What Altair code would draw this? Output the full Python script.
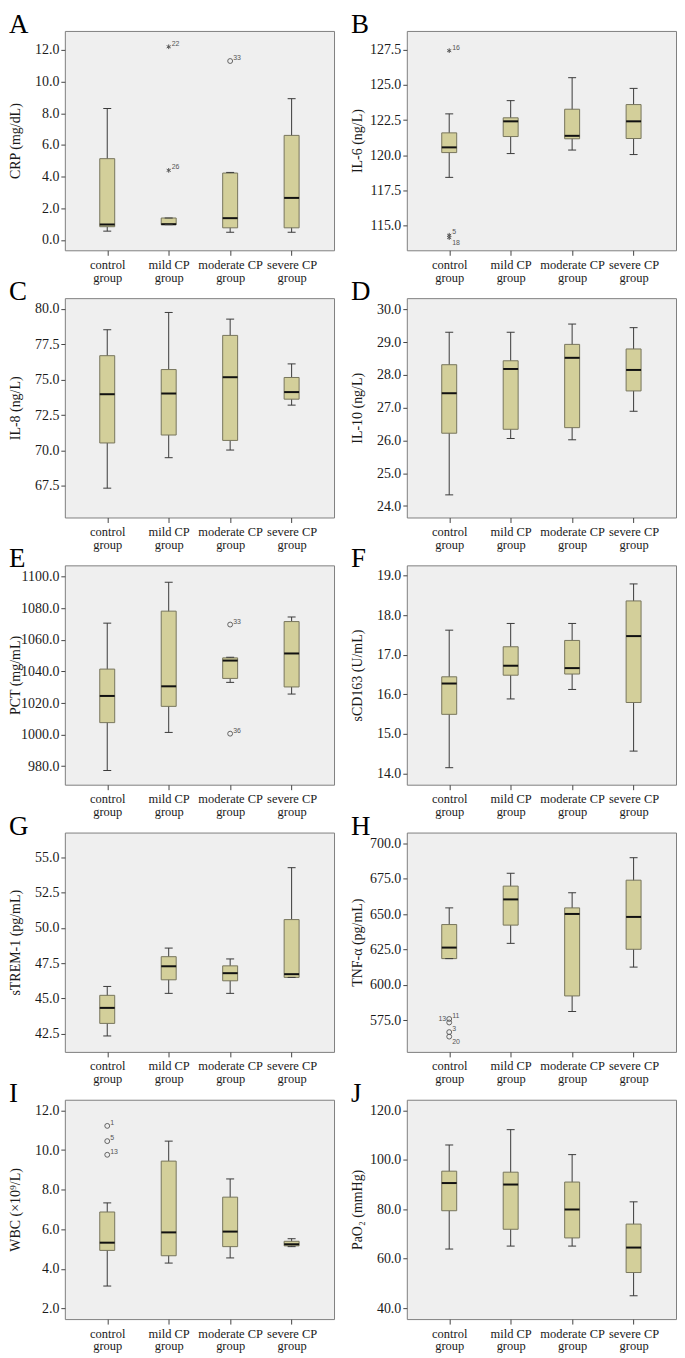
import altair as alt
import pandas as pd

groups = ["control group", "mild CP group", "moderate CP group", "severe CP group"]

# ---- A: CRP ----
crp_lo = [0.55, 0.96, 0.48, 0.48]
crp_q1 = [0.83, 0.96, 0.76, 0.76]
crp_med = [0.97, 0.99, 1.37, 2.65]
crp_q3 = [5.13, 1.38, 4.22, 6.60]
crp_hi = [8.30, 1.38, 4.26, 8.92]
crp_ticks = [0, 2, 4, 6, 8, 10, 12]
crp_domain = [-0.66, 13.2]
crp_out_group = ["mild CP group", "mild CP group", "moderate CP group"]
crp_out_value = [12.2, 4.39, 11.3]
crp_out_label = ["22", "26", "33"]
crp_out_shape = ["star", "star", "circle"]
crp_out_pos = ["ur", "ur", "ur"]

# ---- B: IL-6 ----
il6_lo = [118.43, 120.12, 120.37, 120.05]
il6_q1 = [120.19, 121.33, 121.17, 121.19]
il6_med = [120.56, 122.41, 121.38, 122.41]
il6_q3 = [121.59, 122.66, 123.27, 123.60]
il6_hi = [122.94, 123.88, 125.51, 124.75]
il6_ticks = [115.0, 117.5, 120.0, 122.5, 125.0, 127.5]
il6_domain = [113.25, 128.83]
il6_out_group = ["control group", "control group", "control group"]
il6_out_value = [127.43, 114.32, 114.15]
il6_out_label = ["16", "5", "18"]
il6_out_shape = ["star", "star", "star"]
il6_out_pos = ["ur", "ur", "dr"]

# ---- C: IL-8 ----
il8_lo = [67.34, 69.49, 70.03, 73.20]
il8_q1 = [70.53, 71.09, 70.71, 73.62]
il8_med = [73.97, 74.02, 75.17, 74.12]
il8_q3 = [76.69, 75.71, 78.12, 75.15]
il8_hi = [78.52, 79.74, 79.27, 76.11]
il8_ticks = [67.5, 70.0, 72.5, 75.0, 77.5, 80.0]
il8_domain = [65.27, 80.75]

# ---- D: IL-10 ----
il10_lo = [24.34, 26.06, 26.02, 26.89]
il10_q1 = [26.22, 26.34, 26.39, 27.51]
il10_med = [27.44, 28.18, 28.52, 28.15]
il10_q3 = [28.31, 28.43, 28.93, 28.79]
il10_hi = [29.30, 29.30, 29.55, 29.44]
il10_ticks = [24, 25, 26, 27, 28, 29, 30]
il10_domain = [23.65, 30.34]

# ---- E: PCT ----
pct_lo = [977.3, 1001.4, 1033.1, 1025.7]
pct_q1 = [1007.6, 1017.9, 1035.6, 1030.2]
pct_med = [1024.5, 1030.6, 1046.9, 1051.4]
pct_q3 = [1041.5, 1078.2, 1048.6, 1071.6]
pct_hi = [1070.6, 1096.5, 1049.0, 1074.5]
pct_ticks = [980, 1000, 1020, 1040, 1060, 1080, 1100]
pct_domain = [968.3, 1107.2]
pct_out_group = ["moderate CP group", "moderate CP group"]
pct_out_value = [1069.7, 1000.6]
pct_out_label = ["33", "36"]
pct_out_shape = ["circle", "circle"]
pct_out_pos = ["ur", "ur"]

# ---- F: sCD163 ----
scd_lo = [14.14, 15.88, 16.12, 14.56]
scd_q1 = [15.49, 16.48, 16.51, 15.79]
scd_med = [16.27, 16.72, 16.66, 17.47]
scd_q3 = [16.44, 17.20, 17.36, 18.36]
scd_hi = [17.62, 17.79, 17.79, 18.79]
scd_ticks = [14, 15, 16, 17, 18, 19]
scd_domain = [13.71, 19.26]

# ---- G: sTREM-1 ----
strem_lo = [42.34, 45.36, 45.36, 46.49]
strem_q1 = [43.23, 46.32, 46.25, 46.49]
strem_med = [44.33, 47.28, 46.79, 46.72]
strem_q3 = [45.22, 47.96, 47.31, 50.59]
strem_hi = [45.85, 48.57, 47.80, 54.27]
strem_ticks = [42.5, 45.0, 47.5, 50.0, 52.5, 55.0]
strem_domain = [41.21, 56.76]

# ---- H: TNF-alpha ----
tnf_lo = [618.5, 629.3, 581.1, 612.5]
tnf_q1 = [618.5, 642.2, 592.1, 625.1]
tnf_med = [626.3, 660.4, 650.1, 648.0]
tnf_q3 = [642.6, 669.8, 654.4, 674.0]
tnf_hi = [654.4, 678.9, 665.1, 689.9]
tnf_ticks = [575, 600, 625, 650, 675, 700]
tnf_domain = [552.5, 707.7]
tnf_out_group = ["control group", "control group", "control group", "control group"]
tnf_out_value = [575.8, 573.3, 566.5, 563.3]
tnf_out_label = ["11", "13", "3", "20"]
tnf_out_shape = ["circle", "circle", "circle", "circle"]
tnf_out_pos = ["ur", "ul", "ur", "dr"]

# ---- I: WBC ----
wbc_lo = [3.13, 4.29, 4.55, 5.12]
wbc_q1 = [4.93, 4.66, 5.12, 5.16]
wbc_med = [5.32, 5.84, 5.88, 5.24]
wbc_q3 = [6.87, 9.44, 7.62, 5.39]
wbc_hi = [7.33, 10.45, 8.54, 5.52]
wbc_ticks = [2, 4, 6, 8, 10, 12]
wbc_domain = [1.46, 12.54]
wbc_out_group = ["control group", "control group", "control group"]
wbc_out_value = [11.22, 10.45, 9.76]
wbc_out_label = ["1", "5", "13"]
wbc_out_shape = ["circle", "circle", "circle"]
wbc_out_pos = ["ur", "ur", "ur"]

# ---- J: PaO2 ----
pao_lo = [63.9, 65.1, 65.1, 45.0]
pao_q1 = [79.4, 71.9, 68.4, 54.4]
pao_med = [90.6, 90.0, 79.9, 64.5]
pao_q3 = [95.4, 95.0, 91.0, 74.0]
pao_hi = [106.0, 112.2, 102.1, 83.0]
pao_ticks = [40, 60, 80, 100, 120]
pao_domain = [35.56, 124.3]

FONT = "Liberation Serif"
BOX_FILL = "#d3cf9a"
BOX_STROKE = "#77755c"
WHISK = "#3a3a3a"
OUT = "#555555"
STAR = "M0,-1L0,1M-0.87,-0.5L0.87,0.5M-0.87,0.5L0.87,-0.5"
W, H = 270, 220


def make_panel(letter, ytitle, lo, q1, med, q3, hi, domain, ticks,
               og=None, ov=None, ol=None, osh=None, opos=None):
    df = pd.DataFrame({"group": groups, "lo": lo, "q1": q1, "med": med,
                       "q3": q3, "hi": hi})
    x = alt.X("group:N", sort=groups,
              scale=alt.Scale(type="point", domain=groups, padding=0.69),
              axis=alt.Axis(title=None,
                            labelExpr="[replace(datum.label, ' group', ''), 'group']"))
    ysc = alt.Scale(domain=domain, nice=False, zero=False)
    yax = alt.Axis(title=ytitle, values=ticks, format=".1f")

    def Y(f):
        return alt.Y(f + ":Q", scale=ysc, axis=yax, title=ytitle)

    base = alt.Chart(df)
    layers = [
        base.mark_rule(color=WHISK, strokeWidth=1).encode(x=x, y=Y("lo"), y2="hi:Q"),
        base.mark_bar(size=15, fill=BOX_FILL, stroke=BOX_STROKE, strokeWidth=1,
                      opacity=1).encode(x=x, y=Y("q1"), y2="q3:Q"),
        base.mark_tick(size=15, thickness=2, color="#111111", opacity=1).encode(x=x, y=Y("med")),
        base.mark_tick(size=8, thickness=1, color=WHISK, opacity=1).encode(x=x, y=Y("lo")),
        base.mark_tick(size=8, thickness=1, color=WHISK, opacity=1).encode(x=x, y=Y("hi")),
    ]
    if og:
        odf = pd.DataFrame({"group": og, "value": ov, "label": ol,
                            "shape": osh, "pos": opos})
        ob = alt.Chart(odf)
        layers.append(
            ob.transform_filter("datum.shape == 'circle'")
            .mark_point(shape="circle", filled=False, size=24, color=OUT,
                        strokeWidth=0.9, opacity=1)
            .encode(x=x, y=Y("value")))
        layers.append(
            ob.transform_filter("datum.shape == 'star'")
            .mark_point(shape=STAR, filled=False, size=22, color=OUT,
                        strokeWidth=1, opacity=1)
            .encode(x=x, y=Y("value")))
        txt = dict(font="Liberation Sans", fontSize=7, color="#555555")
        layers.append(
            ob.transform_filter("datum.pos == 'ur'")
            .mark_text(align="left", baseline="alphabetic", dx=3, dy=-1, **txt)
            .encode(x=x, y=Y("value"), text="label:N"))
        layers.append(
            ob.transform_filter("datum.pos == 'dr'")
            .mark_text(align="left", baseline="top", dx=3, dy=1, **txt)
            .encode(x=x, y=Y("value"), text="label:N"))
        layers.append(
            ob.transform_filter("datum.pos == 'ul'")
            .mark_text(align="right", baseline="alphabetic", dx=-3, dy=-1, **txt)
            .encode(x=x, y=Y("value"), text="label:N"))
    return alt.layer(*layers).properties(width=W, height=H, title=letter)


pA = make_panel("A", "CRP (mg/dL)", crp_lo, crp_q1, crp_med, crp_q3, crp_hi,
                crp_domain, crp_ticks, crp_out_group, crp_out_value,
                crp_out_label, crp_out_shape, crp_out_pos)
pB = make_panel("B", "IL-6 (ng/L)", il6_lo, il6_q1, il6_med, il6_q3, il6_hi,
                il6_domain, il6_ticks, il6_out_group, il6_out_value,
                il6_out_label, il6_out_shape, il6_out_pos)
pC = make_panel("C", "IL-8 (ng/L)", il8_lo, il8_q1, il8_med, il8_q3, il8_hi,
                il8_domain, il8_ticks)
pD = make_panel("D", "IL-10 (ng/L)", il10_lo, il10_q1, il10_med, il10_q3,
                il10_hi, il10_domain, il10_ticks)
pE = make_panel("E", "PCT (mg/mL)", pct_lo, pct_q1, pct_med, pct_q3, pct_hi,
                pct_domain, pct_ticks, pct_out_group, pct_out_value,
                pct_out_label, pct_out_shape, pct_out_pos)
pF = make_panel("F", "sCD163 (U/mL)", scd_lo, scd_q1, scd_med, scd_q3, scd_hi,
                scd_domain, scd_ticks)
pG = make_panel("G", "sTREM-1 (pg/mL)", strem_lo, strem_q1, strem_med,
                strem_q3, strem_hi, strem_domain, strem_ticks)
pH = make_panel("H", "TNF-α (pg/mL)", tnf_lo, tnf_q1, tnf_med, tnf_q3, tnf_hi,
                tnf_domain, tnf_ticks, tnf_out_group, tnf_out_value,
                tnf_out_label, tnf_out_shape, tnf_out_pos)
pI = make_panel("I", "WBC (×10⁹/L)", wbc_lo, wbc_q1, wbc_med, wbc_q3, wbc_hi,
                wbc_domain, wbc_ticks, wbc_out_group, wbc_out_value,
                wbc_out_label, wbc_out_shape, wbc_out_pos)
pJ = make_panel("J", "PaO₂ (mmHg)", pao_lo, pao_q1, pao_med, pao_q3, pao_hi,
                pao_domain, pao_ticks)

chart = (
    alt.concat(pA, pB, pC, pD, pE, pF, pG, pH, pI, pJ, columns=2,
               spacing={"row": 48, "column": 73}, bounds="flush")
    .properties(padding={"left": 0, "top": 0, "right": 0, "bottom": 0},
                background="white")
    .configure_view(fill="#efefef", stroke="#7f7f7f", strokeWidth=1)
    .configure_axis(domain=False, grid=False, labelFont=FONT, titleFont=FONT,
                    labelColor="#1a1a1a", titleColor="#1a1a1a",
                    tickColor="#444444", titleFontWeight="normal")
    .configure_axisX(tickSize=5, labelPadding=3, labelFontSize=12.5,
                     labelLineHeight=13, labelAngle=0, labelOverlap=False,
                     labelBound=False, labelFlush=False)
    .configure_axisY(tickSize=4, labelPadding=2, labelFontSize=14,
                     titleFontSize=14, titleX=-42, titleY=H / 2,
                     titleBaseline="bottom", titleAlign="center")
    .configure_title(font=FONT, fontSize=27, fontWeight="normal",
                     anchor="start", frame="group", offset=0, dx=-56, dy=12,
                     baseline="bottom", color="black")
)

chart.save("out.html", embed_options={"renderer": "svg", "actions": False})
